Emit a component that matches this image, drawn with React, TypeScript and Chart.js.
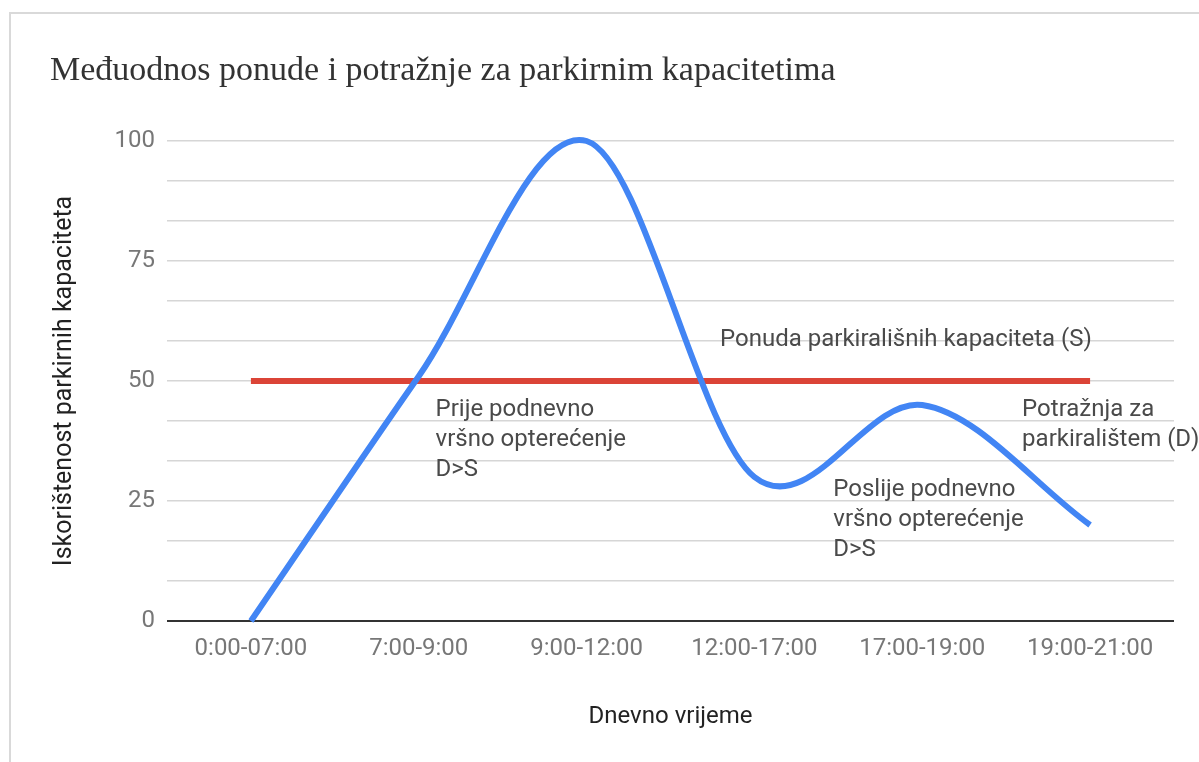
import React, { useEffect, useRef } from "react";
import { Chart, registerables } from "chart.js";

Chart.register(...registerables);

const categories = ["0:00-07:00", "7:00-9:00", "9:00-12:00", "12:00-17:00", "17:00-19:00", "19:00-21:00"];
const demand = [0, 51, 100, 30, 45, 20];
const supply = [50, 50, 50, 50, 50, 50];
const yMajorTicks = [0, 25, 50, 75, 100];
const yMinorPerMajor = 3;

const titleText = "Međuodnos ponude i potražnje za parkirnim kapacitetima";
const xTitle = "Dnevno vrijeme";
const yTitle = "Iskorištenost parkirnih kapaciteta";

// annotation anchors in data units (fractional category index, value)
const annotations = [
  { x: 2.795, y: 58.5, lines: ["Ponuda parkirališnih kapaciteta (S)"] },
  { x: 1.1, y: 44, lines: ["Prije podnevno", "vršno opterećenje", "D>S"] },
  { x: 3.47, y: 27.3, lines: ["Poslije podnevno", "vršno opterećenje", "D>S"] },
  { x: 4.595, y: 44, lines: ["Potražnja za", "parkiralištem (D)"] },
];

// Catmull-Rom style smoothing (like Google "function" curves) applied to the
// control points Chart.js computed for the demand line.
const smoothPlugin = {
  id: "catmull",
  beforeDatasetDraw(chart: any, args: any) {
    if (args.index !== 0) return;
    const meta = args.meta;
    const line = meta.dataset;
    if (line && line.updateControlPoints) line.updateControlPoints(chart.chartArea, "x");
    const pts = meta.data;
    const n = pts.length;
    for (let i = 0; i < n; i++) {
      const p = pts[i];
      const prev = pts[Math.max(0, i - 1)];
      const next = pts[Math.min(n - 1, i + 1)];
      const f = i === 0 || i === n - 1 ? 1 / 3 : 1 / 6;
      const dx = (next.x - prev.x) * f;
      const dy = (next.y - prev.y) * f;
      p.cp1x = p.x - dx;
      p.cp1y = p.y - dy;
      p.cp2x = p.x + dx;
      p.cp2y = p.y + dy;
    }
    if (line) line._path = undefined;
  },
};

const annotationPlugin = {
  id: "annot",
  afterDatasetsDraw(chart: any) {
    const { ctx, scales } = chart;
    const xs = scales.x;
    const ys = scales.y;
    ctx.save();
    ctx.font = "24px Roboto";
    ctx.fillStyle = "#4a4a4a";
    ctx.textAlign = "left";
    ctx.textBaseline = "middle";
    annotations.forEach((a) => {
      const i0 = Math.floor(a.x);
      const frac = a.x - i0;
      const px = xs.getPixelForValue(i0) + frac * (xs.getPixelForValue(i0 + 1) - xs.getPixelForValue(i0));
      const py = ys.getPixelForValue(a.y);
      a.lines.forEach((l, k) => ctx.fillText(l, px, py + k * 30));
    });
    ctx.restore();
  },
};

const titlePlugin = {
  id: "serifTitle",
  afterDraw(chart: any) {
    const { ctx } = chart;
    ctx.save();
    ctx.font = "34px 'Liberation Serif'";
    ctx.fillStyle = "#333333";
    ctx.textAlign = "left";
    ctx.textBaseline = "alphabetic";
    ctx.fillText(titleText, 50, 80);
    ctx.restore();
  },
};

export default function App() {
  const ref = useRef<HTMLCanvasElement>(null);
  useEffect(() => {
    document.body.style.margin = "0";
    const step = 25 / yMinorPerMajor;
    const chart = new Chart(ref.current!, {
      type: "line",
      data: {
        labels: categories,
        datasets: [
          {
            label: "Potražnja",
            data: demand,
            borderColor: "#4285f4",
            borderWidth: 6,
            tension: 0.01,
            pointRadius: 0,
            fill: false,
            borderCapStyle: "butt",
          },
          {
            label: "Ponuda",
            data: supply,
            borderColor: "#db4437",
            borderWidth: 6,
            pointRadius: 0,
            fill: false,
          },
        ],
      },
      plugins: [smoothPlugin, annotationPlugin, titlePlugin],
      options: {
        animation: false,
        responsive: false,
        maintainAspectRatio: false,
        layout: { padding: { top: 141, right: 25, left: 0, bottom: 0 } },
        plugins: { legend: { display: false }, tooltip: { enabled: false }, title: { display: false } },
        clip: false as any,
        scales: {
          x: {
            offset: true,
            grid: { display: false, drawTicks: false },
            border: { display: false },
            ticks: { color: "#777777", font: { family: "Roboto", size: 24 }, padding: 14, maxRotation: 0 },
            title: { display: true, text: xTitle, color: "#222222", font: { family: "Roboto", size: 24 }, padding: { top: 0, bottom: 31 } },
            afterFit: (s: any) => { s.height = 141; },
          },
          y: {
            min: 0,
            max: 100,
            grid: {
              drawTicks: false,
              color: (c: any) => (c.tick && c.tick.value === 0 ? "#333333" : "#d6d6d6"),
              lineWidth: (c: any) => (c.tick && c.tick.value === 0 ? 2 : 1.5),
            },
            border: { display: false },
            afterBuildTicks: (s: any) => {
              const t: any[] = [];
              const max = yMajorTicks[yMajorTicks.length - 1];
              for (let i = 0; i * step <= max + 1e-9; i++) t.push({ value: i * step });
              s.ticks = t;
            },
            ticks: {
              color: "#777777",
              font: { family: "Roboto", size: 24 },
              padding: 12,
              autoSkip: false,
              callback: (v: any) => {
                const n = Math.round(v);
                return Math.abs(v - n) < 1e-6 && yMajorTicks.includes(n) ? String(n) : "";
              },
            },
            title: { display: true, text: yTitle, color: "#222222", font: { family: "Roboto", size: 25 }, padding: { top: 50, bottom: 0 } },
            afterFit: (s: any) => { s.width = 167; },
          },
        },
      },
    });
    return () => chart.destroy();
  }, []);
  return (
    <div style={{ position: "relative", width: 1199, height: 762, background: "#fff", overflow: "hidden" }}>
      <div style={{ position: "absolute", left: 9, top: 12, right: -10, bottom: -10, borderLeft: "2px solid #d9d9d9", borderTop: "2px solid #d9d9d9" }} />
      <canvas ref={ref} width={1199} height={762} style={{ position: "absolute", left: 0, top: 0 }} />
    </div>
  );
}
